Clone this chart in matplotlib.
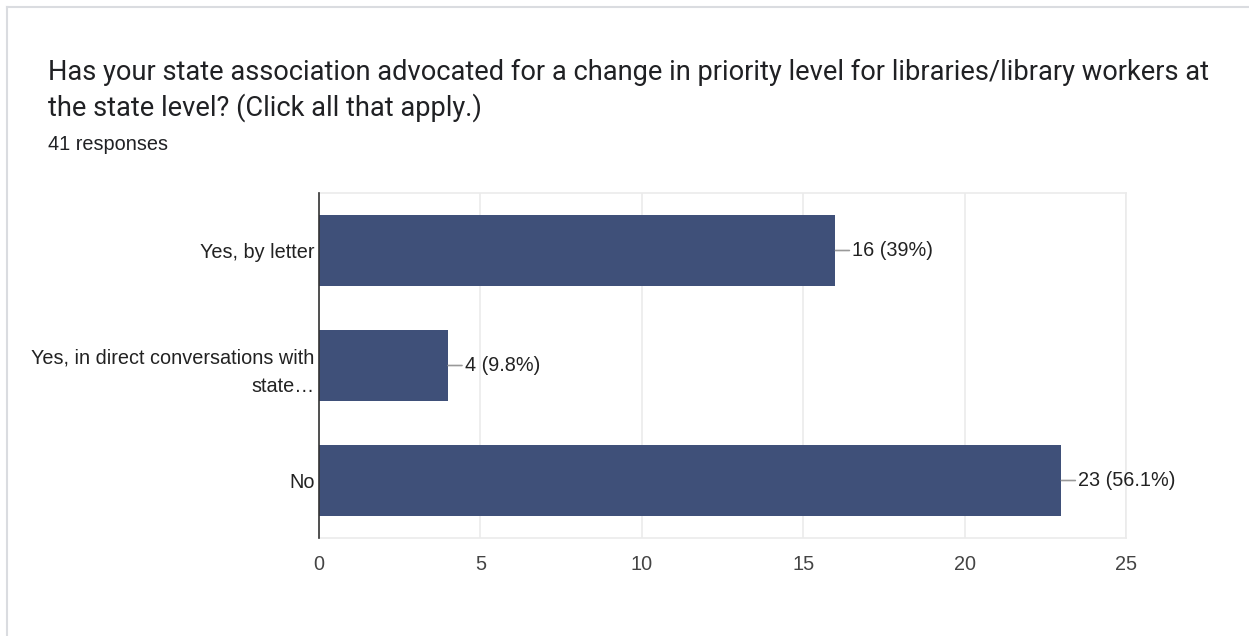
import matplotlib
matplotlib.use("Agg")
import matplotlib.pyplot as plt
from matplotlib.lines import Line2D

# data
categories = ["Yes, by letter", "Yes, in direct conversations with\nstate…", "No"]
counts = [16, 4, 23]
value_labels = ["16 (39%)", "4 (9.8%)", "23 (56.1%)"]
x_ticks = [0, 5, 10, 15, 20, 25]

title = ("Has your state association advocated for a change in priority level for libraries/library workers at\n"
         "the state level? (Click all that apply.)")
subtitle = "41 responses"

bar_color = "#3f5079"
grid_color = "#ebebeb"

fig = plt.figure(figsize=(12.49, 6.36), dpi=100)
fig.patch.set_facecolor("white")

# card border (top and left only visible)
fig.add_artist(Line2D([7 / 1249, 1.0], [1 - 7 / 636, 1 - 7 / 636], color="#dadce0", lw=1.5))
fig.add_artist(Line2D([7 / 1249, 7 / 1249], [0, 1 - 7 / 636], color="#dadce0", lw=1.5))

fig.text(48 / 1249, 1 - 59 / 636, title, fontsize=19.6, family="Roboto", color="#202124",
         va="top", ha="left", linespacing=1.33)
fig.text(48 / 1249, 1 - 145 / 636, subtitle, fontsize=14.3, family="Liberation Sans", color="#202124",
         va="center", ha="left")

ax = fig.add_axes([319 / 1249, 98 / 636, 807 / 1249, 345 / 636])
ypos = list(range(len(categories)))
ax.barh(ypos, counts, height=0.62, color=bar_color, zorder=3)

ax.set_xlim(0, 25)
ax.set_ylim(len(categories) - 0.5, -0.5)
ax.set_xticks(x_ticks)
ax.set_yticks(ypos)
ax.set_yticklabels(categories, fontsize=14.3, family="Liberation Sans", color="#222222",
                   multialignment="right", linespacing=1.6)
ax.tick_params(axis="y", length=0, pad=3)
ax.tick_params(axis="x", length=0, pad=12, labelsize=14.3, labelcolor="#444444")
for lbl in ax.get_xticklabels():
    lbl.set_family("Liberation Sans")

ax.grid(axis="x", color=grid_color, lw=1.2, zorder=0)
for s in ["top", "right", "bottom"]:
    ax.spines[s].set_color(grid_color)
    ax.spines[s].set_linewidth(1.2)
ax.spines["left"].set_color("#333333")
ax.spines["left"].set_linewidth(1.2)
ax.spines["left"].set_zorder(4)

for i, (v, lab) in enumerate(zip(counts, value_labels)):
    ax.annotate(lab, xy=(v, i), xytext=(12, 0), textcoords="offset points",
                va="center", ha="left", fontsize=14.3, family="Liberation Sans", color="#222222",
                arrowprops=dict(arrowstyle="-", color="#999999", lw=1.2, shrinkA=0, shrinkB=0),
                zorder=5)

fig.savefig("out.png", dpi=100)
